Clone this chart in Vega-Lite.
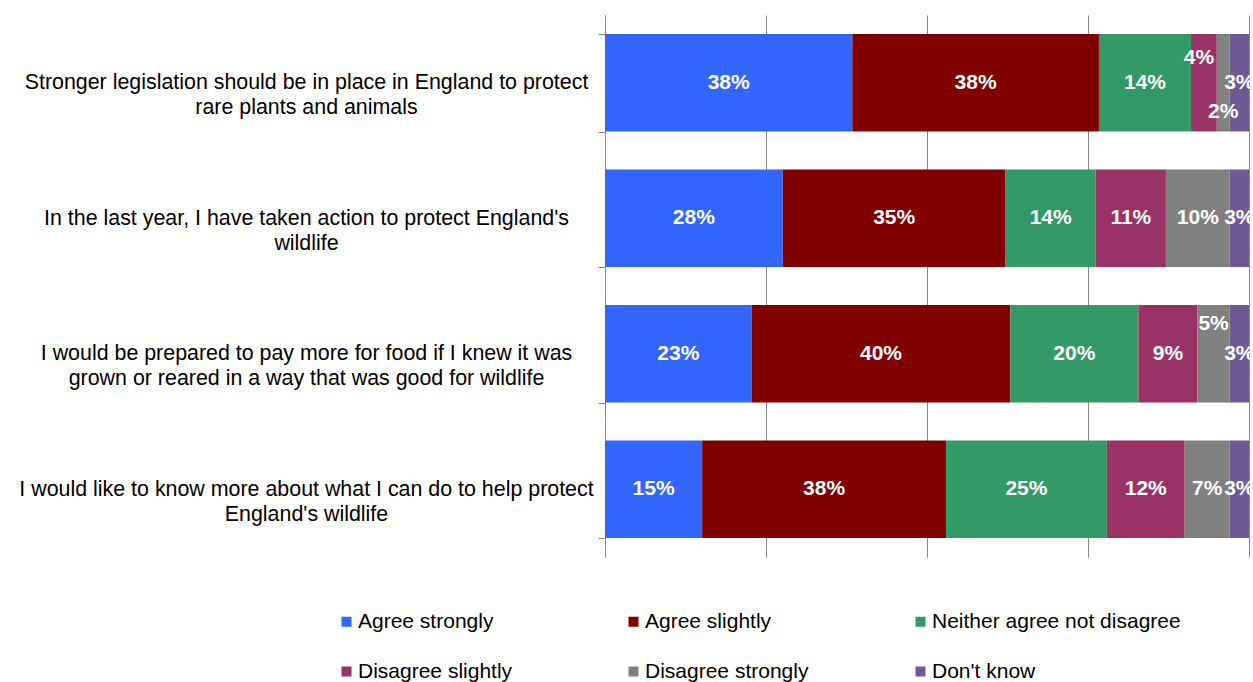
{
  "$schema": "https://vega.github.io/schema/vega-lite/v6.json",
  "width": 644,
  "height": 542,
  "autosize": {"type": "none"},
  "padding": {"left": 605, "top": 15, "right": 4, "bottom": 125},
  "background": "white",
  "config": {
    "view": {"stroke": null},
    "font": "Liberation Sans"
  },
  "data": {
    "values": [
      {"question": "Stronger legislation should be in place in England to protect|rare plants and animals", "response": "Agree strongly", "value": 0.384},
      {"question": "Stronger legislation should be in place in England to protect|rare plants and animals", "response": "Agree slightly", "value": 0.383},
      {"question": "Stronger legislation should be in place in England to protect|rare plants and animals", "response": "Neither agree not disagree", "value": 0.143},
      {"question": "Stronger legislation should be in place in England to protect|rare plants and animals", "response": "Disagree slightly", "value": 0.04},
      {"question": "Stronger legislation should be in place in England to protect|rare plants and animals", "response": "Disagree strongly", "value": 0.02},
      {"question": "Stronger legislation should be in place in England to protect|rare plants and animals", "response": "Don't know", "value": 0.03},
      {"question": "In the last year, I have taken action to protect England's|wildlife", "response": "Agree strongly", "value": 0.276},
      {"question": "In the last year, I have taken action to protect England's|wildlife", "response": "Agree slightly", "value": 0.346},
      {"question": "In the last year, I have taken action to protect England's|wildlife", "response": "Neither agree not disagree", "value": 0.14},
      {"question": "In the last year, I have taken action to protect England's|wildlife", "response": "Disagree slightly", "value": 0.109},
      {"question": "In the last year, I have taken action to protect England's|wildlife", "response": "Disagree strongly", "value": 0.099},
      {"question": "In the last year, I have taken action to protect England's|wildlife", "response": "Don't know", "value": 0.03},
      {"question": "I would be prepared to pay more for food if I knew it was|grown or reared in a way that was good for wildlife", "response": "Agree strongly", "value": 0.228},
      {"question": "I would be prepared to pay more for food if I knew it was|grown or reared in a way that was good for wildlife", "response": "Agree slightly", "value": 0.402},
      {"question": "I would be prepared to pay more for food if I knew it was|grown or reared in a way that was good for wildlife", "response": "Neither agree not disagree", "value": 0.199},
      {"question": "I would be prepared to pay more for food if I knew it was|grown or reared in a way that was good for wildlife", "response": "Disagree slightly", "value": 0.092},
      {"question": "I would be prepared to pay more for food if I knew it was|grown or reared in a way that was good for wildlife", "response": "Disagree strongly", "value": 0.05},
      {"question": "I would be prepared to pay more for food if I knew it was|grown or reared in a way that was good for wildlife", "response": "Don't know", "value": 0.03},
      {"question": "I would like to know more about what I can do to help protect|England's wildlife", "response": "Agree strongly", "value": 0.151},
      {"question": "I would like to know more about what I can do to help protect|England's wildlife", "response": "Agree slightly", "value": 0.379},
      {"question": "I would like to know more about what I can do to help protect|England's wildlife", "response": "Neither agree not disagree", "value": 0.25},
      {"question": "I would like to know more about what I can do to help protect|England's wildlife", "response": "Disagree slightly", "value": 0.121},
      {"question": "I would like to know more about what I can do to help protect|England's wildlife", "response": "Disagree strongly", "value": 0.07},
      {"question": "I would like to know more about what I can do to help protect|England's wildlife", "response": "Don't know", "value": 0.03}
    ]
  },
  "transform": [
    {"calculate": "indexof(['Agree strongly','Agree slightly','Neither agree not disagree','Disagree slightly','Disagree strongly','Don\\'t know'], datum.response)", "as": "ord"},
    {"stack": "value", "groupby": ["question"], "sort": [{"field": "ord", "order": "ascending"}], "offset": "normalize", "as": ["v0", "v1"]},
    {"calculate": "(datum.v0 + datum.v1) / 2", "as": "mid"}
  ],
  "resolve": {"axis": {"y": "independent"}},
  "encoding": {
    "y": {
      "field": "question",
      "type": "nominal",
      "sort": null,
      "title": null,
      "scale": {"paddingInner": 0.28, "paddingOuter": 0.14},
      "axis": null
    }
  },
  "layer": [
    {
      "mark": {"type": "bar"},
      "encoding": {
        "y": {
          "field": "question",
          "type": "nominal",
          "sort": null,
          "title": null,
          "scale": {"paddingInner": 0.28, "paddingOuter": 0.14},
          "axis": {
            "orient": "left",
            "labelExpr": "split(datum.label, '|')",
            "labelAlign": "center",
            "labelBaseline": "middle",
            "labelPadding": 292,
            "labelFontSize": 21.4,
            "labelLineHeight": 25,
            "labelColor": "#000000",
            "labelLimit": 0,
            "labelFont": "Liberation Sans",
            "tickBand": "extent",
            "tickSize": 7,
            "tickColor": "#868686",
            "domainColor": "#868686",
            "grid": false,
            "encode": {
              "labels": {
                "dx": {
                  "condition": [
                    {"test": "indexof(datum.value, 'Stronger') == 0", "value": -12},
                    {"test": "indexof(datum.value, 'In the last') == 0", "value": 14},
                    {"test": "indexof(datum.value, 'I would be') == 0", "value": 10}
                  ],
                  "value": -12
                }
              }
            }
          }
        },
        "x": {
          "field": "v0",
          "type": "quantitative",
          "scale": {"domain": [0, 1], "nice": false},
          "axis": {
            "values": [0, 0.25, 0.5, 0.75, 1],
            "grid": true,
            "gridColor": "#868686",
            "gridOpacity": 1,
            "domain": false,
            "ticks": false,
            "labels": false,
            "title": null
          }
        },
        "x2": {"field": "v1"},
        "color": {
          "field": "response",
          "type": "nominal",
          "scale": {
            "domain": ["Agree strongly", "Agree slightly", "Neither agree not disagree", "Disagree slightly", "Disagree strongly", "Don't know"],
            "range": ["#3366ff", "#800000", "#339966", "#993366", "#808080", "#6f5a96"]
          },
          "legend": {
            "title": null,
            "orient": "none",
            "legendX": -269,
            "legendY": 596,
            "direction": "horizontal",
            "columns": 3,
            "gridAlign": "all",
            "columnPadding": 16,
            "rowPadding": 28,
            "symbolType": "square",
            "symbolSize": 100,
            "symbolStrokeWidth": 0,
            "labelFontSize": 21,
            "labelColor": "#000000",
            "labelFont": "Liberation Sans",
            "labelLimit": 400,
            "labelOffset": 1
          }
        }
      }
    },
    {
      "transform": [
        {"filter": "!((datum.ord == 3 || datum.ord == 4) && indexof(datum.question, 'Stronger') == 0) && !(datum.ord == 4 && indexof(datum.question, 'I would be prepared') == 0)"}
      ],
      "mark": {"type": "text", "color": "white", "fontWeight": "bold", "fontSize": 21, "font": "Liberation Sans"},
      "encoding": {
        "x": {"field": "mid", "type": "quantitative"},
        "text": {"field": "value", "type": "quantitative", "format": ".0%"}
      }
    },
    {
      "transform": [
        {"filter": "datum.ord == 3 && indexof(datum.question, 'Stronger') == 0"}
      ],
      "mark": {"type": "text", "color": "white", "fontWeight": "bold", "fontSize": 21, "font": "Liberation Sans", "dy": -25, "dx": -5},
      "encoding": {
        "x": {"field": "mid", "type": "quantitative"},
        "text": {"field": "value", "type": "quantitative", "format": ".0%"}
      }
    },
    {
      "transform": [
        {"filter": "datum.ord == 4 && indexof(datum.question, 'Stronger') == 0"}
      ],
      "mark": {"type": "text", "color": "white", "fontWeight": "bold", "fontSize": 21, "font": "Liberation Sans", "dy": 29},
      "encoding": {
        "x": {"field": "mid", "type": "quantitative"},
        "text": {"field": "value", "type": "quantitative", "format": ".0%"}
      }
    },
    {
      "transform": [
        {"filter": "datum.ord == 4 && indexof(datum.question, 'I would be prepared') == 0"}
      ],
      "mark": {"type": "text", "color": "white", "fontWeight": "bold", "fontSize": 21, "font": "Liberation Sans", "dy": -30},
      "encoding": {
        "x": {"field": "mid", "type": "quantitative"},
        "text": {"field": "value", "type": "quantitative", "format": ".0%"}
      }
    }
  ]
}
